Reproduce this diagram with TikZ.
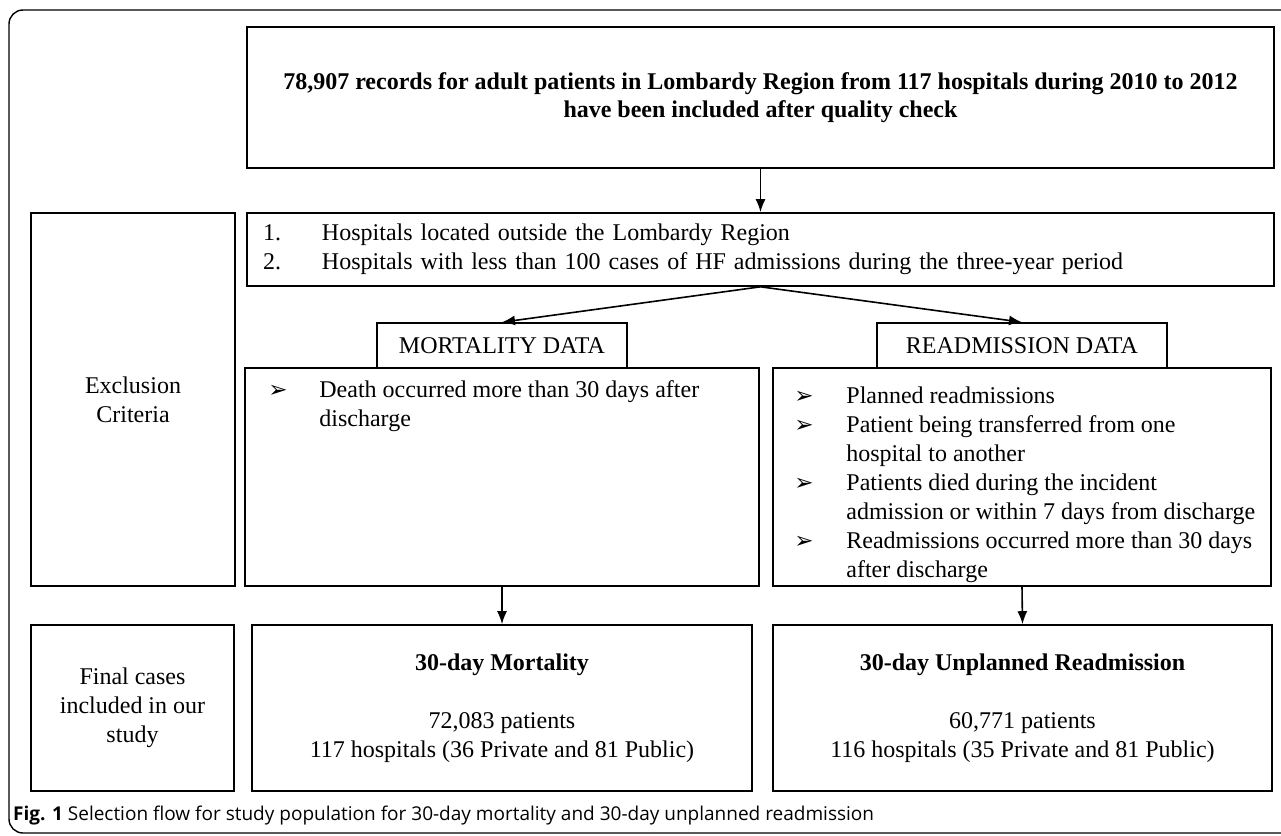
\documentclass[tikz,border=0pt]{standalone}
\usepackage{fontspec}
\setmainfont{Liberation Serif}
\newfontfamily\capfont{Open Sans}
\newfontfamily\symfont{DejaVu Sans}
\usetikzlibrary{arrows.meta}
\newcommand{\arrowbullet}{{\symfont\fontsize{23}{23}\selectfont ➢}}

\begin{document}
\begin{tikzpicture}[x=1pt, y=-1pt,
  box/.style={draw, line width=1.6pt, inner sep=0pt, align=center},
  flow/.style={-{Latex[length=13pt,width=10pt]}, line width=1.6pt},
  font=\fontsize{24}{29}\selectfont]

\useasboundingbox (0,0) rectangle (1281,835);

% outer frame of the figure
\draw[line width=1.4pt, rounded corners=14pt] (9,10) rectangle (1300,833);

%% first row: all records
\path
(760.5,97.5) node[box, font=\fontsize{24}{28}\selectfont\bfseries, minimum width=1027pt, minimum height=141pt](records)
  {78,907 records for adult patients in Lombardy Region from 117 hospitals during 2010 to 2012\\
   have been included after quality check};

%% exclusion criteria
\path
(133,399.5) node[box, minimum width=204pt, minimum height=373pt](exclusion) {Exclusion\\Criteria}
(760.5,249.5) node[box, align=left, inner xsep=16pt, text width=995pt, minimum height=73pt](hospitals)
  {\begin{tabular}{@{}p{59pt}@{}l@{}}
   1. & Hospitals located outside the Lombardy Region\\
   2. & Hospitals with less than 100 cases of HF admissions during the three-year period
   \end{tabular}}
(502,345.5) node[box, minimum width=250pt, minimum height=45pt](mortdata) {MORTALITY DATA}
(1022,345.5) node[box, minimum width=290pt, minimum height=45pt](readdata) {READMISSION DATA}
(502,477) node[box, minimum width=514pt, minimum height=218pt](mortcrit) {}
(1022,477) node[box, minimum width=498pt, minimum height=218pt](readcrit) {};

\node[anchor=north west, inner sep=0pt](mortlist) at ([xshift=24pt, yshift=-10pt]mortcrit.north west)
  {\begin{tabular}{@{}p{51pt}@{}p{420pt}@{}}
   \arrowbullet & Death occurred more than 30 days after\newline discharge
   \end{tabular}};
\node[anchor=north west, inner sep=0pt](readlist) at ([xshift=22pt, yshift=-16pt]readcrit.north west)
  {\begin{tabular}{@{}p{52pt}@{}p{420pt}@{}}
   \arrowbullet & Planned readmissions\\
   \arrowbullet & Patient being transferred from one\newline hospital to another\\
   \arrowbullet & Patients died during the incident\newline admission or within 7 days from discharge\\
   \arrowbullet & Readmissions occurred more than 30 days\newline after discharge
   \end{tabular}};

%% final cases
\path
(132.5,708) node[box, minimum width=203pt, minimum height=166pt](final) {Final cases\\included in our\\study}
(502,708) node[box, minimum width=500pt, minimum height=166pt](mortfinal)
  {\textbf{30-day Mortality}\\[29pt]72,083 patients\\117 hospitals (36 Private and 81 Public)}
(1022.5,708) node[box, minimum width=499pt, minimum height=166pt](readfinal)
  {\textbf{30-day Unplanned Readmission}\\[29pt]60,771 patients\\116 hospitals (35 Private and 81 Public)};

%% connectors
\draw[flow] (records.south) -- (hospitals.north);
\draw[flow] (hospitals.south) -- (mortdata.north);
\draw[flow] (hospitals.south) -- (readdata.north);
\draw[flow] (mortcrit.south) -- (mortfinal.north);
\draw[flow] (readcrit.south) -- (readfinal.north);

%% caption
\node[anchor=west, inner sep=0pt, font=\capfont\fontsize{19}{23}\selectfont](caption) at (13,815)
  {\textbf{Fig. 1} Selection flow for study population for 30-day mortality and 30-day unplanned readmission};

\end{tikzpicture}
\end{document}
